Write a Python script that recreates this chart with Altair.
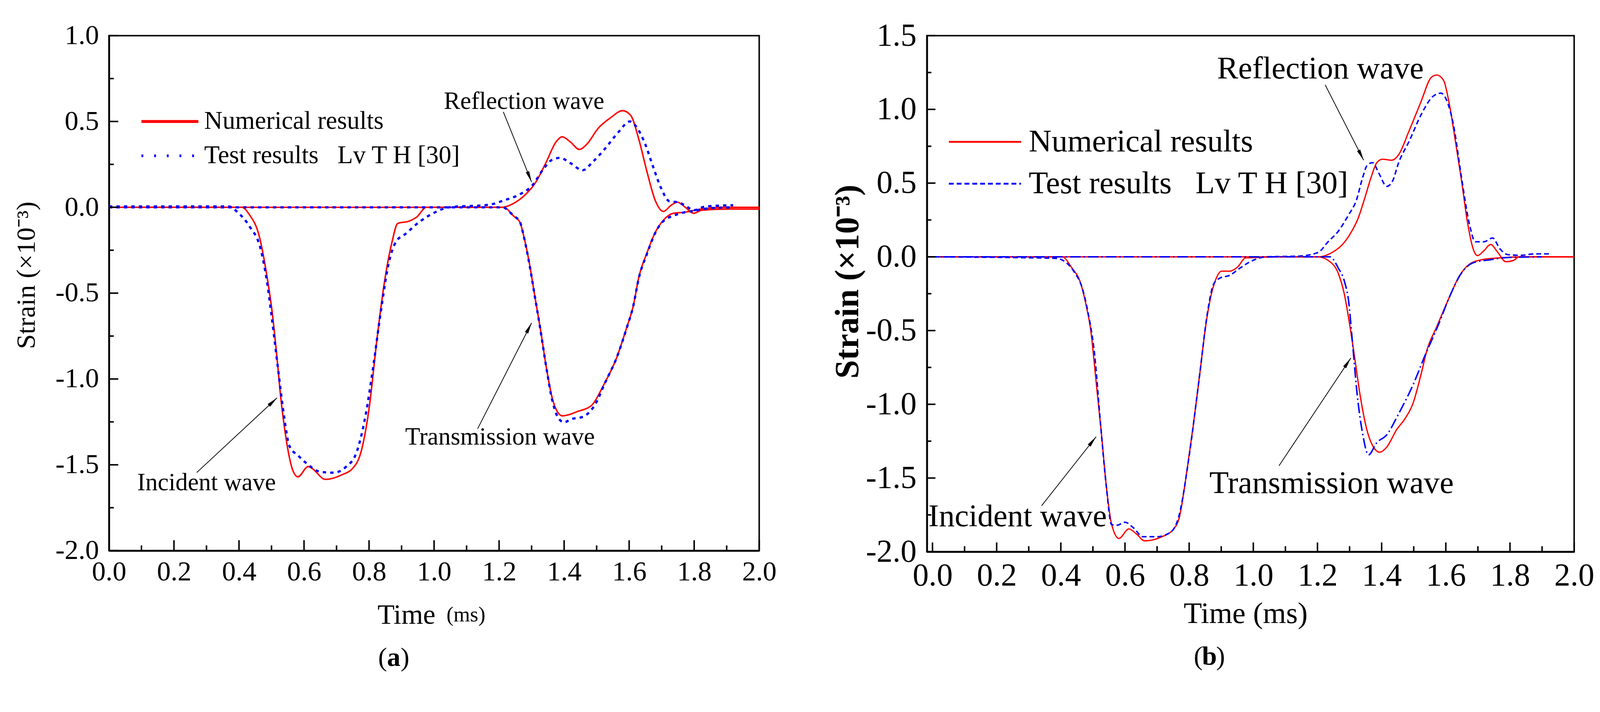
import math
import altair as alt
import pandas as pd

SERIF = "Liberation Serif"
RED = "#ff0000"
BLUE = "#0000ff"

# ---------------- panel (a) data ----------------
A_NUM1_T = [0.0, 0.30, 0.409, 0.432, 0.462, 0.485, 0.502, 0.517, 0.528, 0.543, 0.566, 0.581, 0.613, 0.624,
            0.666, 0.719, 0.748, 0.777, 0.801, 0.824, 0.847, 0.871, 0.888, 0.924, 0.947, 0.976, 1.10, 1.208,
            1.251, 1.282, 1.313, 1.345, 1.375, 1.394, 1.419, 1.447, 1.468, 1.506, 1.543, 1.580, 1.605, 1.630,
            1.655, 1.680, 1.705, 1.730, 1.748, 1.773, 1.798, 1.823, 1.900, 2.0]
A_NUM1_V = [0, 0, 0, -0.043, -0.166, -0.39, -0.61, -0.88, -1.10, -1.325, -1.535, -1.57, -1.51, -1.52,
            -1.585, -1.556, -1.524, -1.413, -1.16, -0.773, -0.44, -0.199, -0.094, -0.08, -0.056, 0, 0, 0,
            0.03, 0.076, 0.147, 0.264, 0.381, 0.411, 0.381, 0.337, 0.364, 0.463, 0.522, 0.563, 0.535, 0.394,
            0.206, 0.041, -0.024, 0.013, 0.03, 0, -0.035, -0.017, -0.01, -0.01]
A_NUM2_T = [0.0, 1.214, 1.245, 1.264, 1.276, 1.295, 1.310, 1.326, 1.345, 1.363, 1.379, 1.395, 1.411, 1.440,
            1.482, 1.524, 1.562, 1.593, 1.612, 1.630, 1.655, 1.680, 1.705, 1.736, 1.773, 1.822, 1.900, 2.0]
A_NUM2_V = [0, 0, -0.052, -0.087, -0.169, -0.346, -0.52, -0.697, -0.93, -1.108, -1.19, -1.215, -1.21, -1.19,
            -1.158, -1.026, -0.874, -0.697, -0.58, -0.405, -0.264, -0.147, -0.076, -0.035, -0.028, -0.01, 0, 0]
A_TEST1_T = [0.0, 0.368, 0.398, 0.432, 0.468, 0.485, 0.502, 0.520, 0.538, 0.555, 0.584, 0.613, 0.648, 0.690,
             0.730, 0.760, 0.789, 0.812, 0.836, 0.860, 0.883, 0.912, 0.952, 0.999, 1.046, 1.170, 1.214, 1.264,
             1.300, 1.339, 1.363, 1.388, 1.419, 1.457, 1.488, 1.525, 1.568, 1.602, 1.624, 1.649, 1.673, 1.698,
             1.724, 1.748, 1.773, 1.798, 1.835, 1.920]
A_TEST1_V = [0.005, 0.005, -0.033, -0.11, -0.254, -0.42, -0.66, -0.94, -1.21, -1.39, -1.45, -1.50, -1.54, -1.546,
             -1.51, -1.435, -1.215, -0.94, -0.61, -0.33, -0.2, -0.155, -0.089, -0.033, 0.0, 0.015, 0.04, 0.076,
             0.123, 0.23, 0.277, 0.288, 0.258, 0.216, 0.264, 0.34, 0.44, 0.5, 0.464, 0.37, 0.24, 0.113,
             0.035, 0.03, 0.01, -0.017, 0.005, 0.012]
A_TEST2_T = [0.0, 1.210, 1.245, 1.264, 1.276, 1.295, 1.310, 1.326, 1.345, 1.363, 1.380, 1.400, 1.420, 1.458,
             1.498, 1.524, 1.562, 1.593, 1.612, 1.630, 1.655, 1.680, 1.700, 1.748, 1.800, 1.850, 1.920]
A_TEST2_V = [0, 0, -0.05, -0.085, -0.17, -0.35, -0.52, -0.70, -0.93, -1.12, -1.22, -1.253, -1.235, -1.22,
             -1.14, -1.03, -0.874, -0.70, -0.58, -0.41, -0.27, -0.15, -0.09, -0.041, -0.02, -0.005, 0.0]

# ---------------- panel (b) data ----------------
B_NUM1_T = [-0.017, 0.285, 0.404, 0.435, 0.461, 0.480, 0.492, 0.511, 0.527, 0.542, 0.558, 0.581, 0.612, 0.636,
            0.661, 0.713, 0.750, 0.769, 0.795, 0.813, 0.833, 0.851, 0.866, 0.882, 0.901, 0.927, 0.951, 0.976,
            1.092, 1.202, 1.246, 1.278, 1.302, 1.327, 1.346, 1.366, 1.385, 1.403, 1.431, 1.453, 1.486, 1.523,
            1.554, 1.572, 1.593, 1.611, 1.630, 1.648, 1.668, 1.686, 1.699, 1.718, 1.740, 1.762, 1.787, 1.812,
            1.828, 1.899, 2.0]
B_NUM1_V = [0, 0, 0, -0.077, -0.174, -0.34, -0.478, -0.867, -1.21, -1.56, -1.81, -1.91, -1.845, -1.88,
            -1.926, -1.9, -1.85, -1.77, -1.42, -1.14, -0.795, -0.478, -0.284, -0.159, -0.097, -0.097, -0.069, -0.007,
            0, 0, 0.03, 0.084, 0.156, 0.263, 0.389, 0.532, 0.639, 0.662, 0.655, 0.693, 0.857, 1.054,
            1.215, 1.233, 1.197, 1.036, 0.783, 0.532, 0.228, 0.049, 0.008, 0.04, 0.084, 0.03, -0.033, -0.023,
            0, 0, 0]
B_NUM2_T = [-0.017, 1.202, 1.239, 1.265, 1.284, 1.300, 1.315, 1.333, 1.352, 1.372, 1.394, 1.416, 1.447, 1.472,
            1.498, 1.523, 1.541, 1.572, 1.611, 1.642, 1.673, 1.711, 1.762, 1.849, 2.0]
B_NUM2_V = [0, 0, -0.033, -0.113, -0.256, -0.455, -0.67, -0.94, -1.156, -1.281, -1.325, -1.29, -1.171, -1.1,
            -0.992, -0.795, -0.634, -0.473, -0.274, -0.13, -0.051, -0.02, -0.008, 0, 0]
B_TEST1_T = [-0.017, 0.386, 0.411, 0.441, 0.467, 0.485, 0.505, 0.524, 0.542, 0.558, 0.575, 0.600, 0.625, 0.656,
             0.700, 0.744, 0.769, 0.800, 0.833, 0.857, 0.876, 0.895, 0.927, 0.958, 0.995, 1.042, 1.143, 1.202,
             1.233, 1.265, 1.296, 1.322, 1.340, 1.355, 1.372, 1.391, 1.416, 1.434, 1.453, 1.486, 1.523, 1.561,
             1.585, 1.604, 1.624, 1.648, 1.673, 1.692, 1.718, 1.746, 1.768, 1.793, 1.833, 1.876, 1.925]
B_TEST1_V = [0.0, -0.01, -0.03, -0.1, -0.214, -0.38, -0.657, -1.14, -1.56, -1.816, -1.82, -1.80, -1.835, -1.898,
             -1.898, -1.864, -1.75, -1.35, -0.795, -0.38, -0.186, -0.145, -0.125, -0.077, -0.028, 0, 0.005, 0.03,
             0.102, 0.174, 0.281, 0.389, 0.532, 0.621, 0.639, 0.568, 0.478, 0.514, 0.639, 0.785, 0.964, 1.09,
             1.11, 1.054, 0.893, 0.55, 0.228, 0.102, 0.102, 0.128, 0.056, 0.015, 0.01, 0.02, 0.02]
B_TEST2_T = [-0.017, 1.239, 1.265, 1.284, 1.297, 1.309, 1.324, 1.340, 1.359, 1.385, 1.416, 1.453, 1.498, 1.535,
             1.578, 1.611, 1.648, 1.686, 1.738, 1.788, 1.899]
B_TEST2_V = [0, 0, -0.077, -0.166, -0.3, -0.58, -0.94, -1.19, -1.343, -1.26, -1.207, -1.064, -0.867, -0.67,
             -0.455, -0.274, -0.113, -0.04, -0.02, -0.005, 0]

# ---------------- ticks and labels ----------------
X_LABELS = [0.0, 0.2, 0.4, 0.6, 0.8, 1.0, 1.2, 1.4, 1.6, 1.8, 2.0]
X_MINOR = [0.1, 0.3, 0.5, 0.7, 0.9, 1.1, 1.3, 1.5, 1.7, 1.9]
A_Y_LABELS = [-2.0, -1.5, -1.0, -0.5, 0.0, 0.5, 1.0]
A_Y_MINOR = [-1.75, -1.25, -0.75, -0.25, 0.25, 0.75]
B_Y_LABELS = [-2.0, -1.5, -1.0, -0.5, 0.0, 0.5, 1.0, 1.5]
B_Y_MINOR = [-1.75, -1.25, -0.75, -0.25, 0.25, 0.75, 1.25]

LEGEND_LABELS = ["Numerical results", "Test results\u00a0\u00a0\u00a0Lv T H [30]"]
NOTE_LABELS = ["Reflection wave", "Transmission wave", "Incident wave"]
Y_TITLE = "Strain (\u00d710\u207b\u00b3)"

NEG = "datum.value < 0 ? '-' + format(-datum.value, '.1f') : format(datum.value, '.1f')"

ARROW = "M0,0L0.32,2L-0.32,2Z"

PA = dict(
    w=1745, h=1383, xdom=[0.0, 2.0], ydom=[-2.0, 1.0],
    ylabels=A_Y_LABELS, yminor=A_Y_MINOR,
    tick=74, xlabpad=22, ylabpad=27,
    xtitle="Time", xtitlesize=75, xtitleX=798, xtitleY=173,
    ytitlesize=72, ytitleweight="normal", ytitleX=-222, ytitleY=643,
    xt=(28, 14), yt=(25, 13),
    lw_num=4, lw_test=6, dash1=[9, 11], dash2=[9, 11],
    num1=(A_NUM1_T, A_NUM1_V), num2=(A_NUM2_T, A_NUM2_V),
    test1=(A_TEST1_T, A_TEST1_V), test2=(A_TEST2_T, A_TEST2_V),
    leg_t=(0.10, 0.275, 0.293), leg_v=(0.50, 0.30), leg_size=68, leg_lw=(8, 7), leg_dash=[5, 29],
    note_size=66,
    notes_t=[1.03, 0.911, 0.087], notes_v=[0.617, -1.338, -1.604],
    arr=[(1.213, 0.556, 1.300, 0.147), (1.134, -1.29, 1.300, -0.673), (0.270, -1.545, 0.517, -1.11)],
    cap="a", cap_t=0.876, cap_dy=288, cap_size=72,
    extra_ms=True,
)

PB = dict(
    w=1737, h=1386, xdom=[-0.0175, 2.0], ydom=[-2.0, 1.5],
    ylabels=B_Y_LABELS, yminor=B_Y_MINOR,
    tick=86, xlabpad=22, ylabpad=28,
    xtitle="Time (ms)", xtitlesize=80, xtitleX=855, xtitleY=167,
    ytitlesize=90, ytitleweight="bold", ytitleX=-212, ytitleY=660,
    xt=(25, 15), yt=(23, 12),
    lw_num=3.5, lw_test=4, dash1=[13, 8], dash2=[28, 8, 4, 8],
    num1=(B_NUM1_T, B_NUM1_V), num2=(B_NUM2_T, B_NUM2_V),
    test1=(B_TEST1_T, B_TEST1_V), test2=(B_TEST2_T, B_TEST2_V),
    leg_t=(0.051, 0.276, 0.300), leg_v=(0.78, 0.496), leg_size=85, leg_lw=(5, 5), leg_dash=[13, 8],
    note_size=85,
    notes_t=[0.887, 0.863, -0.013], notes_v=[1.276, -1.537, -1.762],
    arr=[(1.224, 1.166, 1.344, 0.655), (1.080, -1.417, 1.304, -0.686), (0.340, -1.688, 0.510, -1.22)],
    cap="b", cap_t=0.863, cap_dy=282, cap_size=72,
    extra_ms=False,
)


def panel(P):
    W, H = P["w"], P["h"]
    xs = alt.Scale(domain=P["xdom"], nice=False, zero=False)
    ys = alt.Scale(domain=P["ydom"], nice=False, zero=False)
    ax = alt.Axis(values=X_LABELS, labelExpr=NEG, labelFont=SERIF, labelFontSize=P["tick"],
                  labelColor="black", labelPadding=P["xlabpad"], labelFlush=False, labelOverlap=False,
                  ticks=False, tickSize=0, domainColor="black", domainWidth=5, grid=False,
                  title=P["xtitle"], titleFont=SERIF, titleFontSize=P["xtitlesize"], titleFontWeight="normal",
                  titleColor="black", titleX=P["xtitleX"], titleY=P["xtitleY"], titleBaseline="middle",
                  titleAlign="center")
    ay = alt.Axis(values=P["ylabels"], labelExpr=NEG, labelFont=SERIF, labelFontSize=P["tick"],
                  labelColor="black", labelPadding=P["ylabpad"], labelFlush=False, labelOverlap=False,
                  ticks=False, tickSize=0, domainColor="black", domainWidth=5, grid=False,
                  title=Y_TITLE, titleFont=SERIF, titleFontSize=P["ytitlesize"],
                  titleFontWeight=P["ytitleweight"], titleColor="black", titleAngle=270,
                  titleX=P["ytitleX"], titleY=P["ytitleY"], titleBaseline="middle", titleAlign="center")

    def X(f):
        return alt.X(f, type="quantitative", scale=xs, axis=ax)

    def Y(f):
        return alt.Y(f, type="quantitative", scale=ys, axis=ay)

    num = pd.concat([
        pd.DataFrame({"t": P["num1"][0], "v": P["num1"][1], "s": "n1"}),
        pd.DataFrame({"t": P["num2"][0], "v": P["num2"][1], "s": "n2"}),
    ])
    red = alt.Chart(num).mark_line(color=RED, strokeWidth=P["lw_num"], interpolate="monotone").encode(
        x=X("t"), y=Y("v"), detail="s:N")
    t1 = alt.Chart(pd.DataFrame({"t": P["test1"][0], "v": P["test1"][1]})).mark_line(
        color=BLUE, strokeWidth=P["lw_test"], strokeDash=P["dash1"], interpolate="monotone").encode(
        x=X("t"), y=Y("v"))
    t2 = alt.Chart(pd.DataFrame({"t": P["test2"][0], "v": P["test2"][1]})).mark_line(
        color=BLUE, strokeWidth=P["lw_test"], strokeDash=P["dash2"], interpolate="monotone").encode(
        x=X("t"), y=Y("v"))

    xmaj = alt.Chart(pd.DataFrame({"t": X_LABELS})).mark_rule(color="black", strokeWidth=4).encode(
        x=X("t"), y=alt.value(H), y2=alt.value(H - P["xt"][0]))
    xmin = alt.Chart(pd.DataFrame({"t": X_MINOR})).mark_rule(color="black", strokeWidth=4).encode(
        x=X("t"), y=alt.value(H), y2=alt.value(H - P["xt"][1]))
    ymaj = alt.Chart(pd.DataFrame({"v": P["ylabels"]})).mark_rule(color="black", strokeWidth=4).encode(
        y=Y("v"), x=alt.value(0), x2=alt.value(P["yt"][0]))
    ymin = alt.Chart(pd.DataFrame({"v": P["yminor"]})).mark_rule(color="black", strokeWidth=4).encode(
        y=Y("v"), x=alt.value(0), x2=alt.value(P["yt"][1]))

    lt0, lt1, ltx = P["leg_t"]
    leg1 = alt.Chart(pd.DataFrame({"t": [lt0], "t2": [lt1], "v": [P["leg_v"][0]]})).mark_rule(
        color=RED, strokeWidth=P["leg_lw"][0]).encode(x=X("t"), x2="t2", y=Y("v"))
    leg2 = alt.Chart(pd.DataFrame({"t": [lt0], "t2": [lt1], "v": [P["leg_v"][1]]})).mark_rule(
        color=BLUE, strokeWidth=P["leg_lw"][1], strokeDash=P["leg_dash"]).encode(x=X("t"), x2="t2", y=Y("v"))
    legtxt = alt.Chart(pd.DataFrame({"t": [ltx, ltx], "v": list(P["leg_v"]), "label": LEGEND_LABELS})).mark_text(
        font=SERIF, fontSize=P["leg_size"], align="left", baseline="middle", color="black").encode(
        x=X("t"), y=Y("v"), text="label:N")

    notes = alt.Chart(pd.DataFrame({"t": P["notes_t"], "v": P["notes_v"], "label": NOTE_LABELS})).mark_text(
        font=SERIF, fontSize=P["note_size"], align="left", baseline="middle", color="black").encode(
        x=X("t"), y=Y("v"), text="label:N")

    # arrows: line + rotated arrowhead (angle derived from pixel direction)
    sx = W / (P["xdom"][1] - P["xdom"][0])
    sy = H / (P["ydom"][1] - P["ydom"][0])
    rows = []
    for (ta, va, tb, vb) in P["arr"]:
        dx = (tb - ta) * sx
        dy = -(vb - va) * sy
        ang = math.degrees(math.atan2(dx, -dy)) % 360
        rows.append({"t": ta, "v": va, "t2": tb, "v2": vb, "ang": ang})
    adf = pd.DataFrame(rows)
    aline = alt.Chart(adf).mark_rule(color="black", strokeWidth=2).encode(
        x=X("t"), y=Y("v"), x2="t2", y2="v2")
    ahead = alt.Chart(adf).mark_point(shape=ARROW, filled=True, color="black", opacity=1, size=900,
                                      strokeWidth=0).encode(
        x=X("t2"), y=Y("v2"), angle=alt.Angle("ang:Q", scale=None))

    cap_df = pd.DataFrame({"t": [P["cap_t"]]})
    cap_y = alt.value(H + P["cap_dy"])
    cap_l = alt.Chart(cap_df).mark_text(text="(", font=SERIF, fontSize=P["cap_size"], align="right",
                                        baseline="middle", dx=-18, color="black").encode(x=X("t"), y=cap_y)
    cap_m = alt.Chart(cap_df).mark_text(text=P["cap"], font=SERIF, fontSize=P["cap_size"], fontWeight="bold",
                                        align="center", baseline="middle", color="black").encode(x=X("t"), y=cap_y)
    cap_r = alt.Chart(cap_df).mark_text(text=")", font=SERIF, fontSize=P["cap_size"], align="left",
                                        baseline="middle", dx=18, color="black").encode(x=X("t"), y=cap_y)

    layers = [red, t1, t2, xmaj, xmin, ymaj, ymin, leg1, leg2, legtxt, notes, aline, ahead, cap_l, cap_m, cap_r]
    if P["extra_ms"]:
        ms = alt.Chart(pd.DataFrame({"t": [1.098]})).mark_text(
            text="(ms)", font=SERIF, fontSize=57, align="center", baseline="middle", color="black").encode(
            x=X("t"), y=alt.value(H + P["xtitleY"]))
        layers.append(ms)
    return alt.layer(*layers).properties(width=W, height=H)


chart = alt.hconcat(panel(PA), panel(PB), spacing=142).resolve_scale(
    x="independent", y="independent").configure_view(
    stroke="black", strokeWidth=4).properties(
    padding={"left": 24, "top": 0, "right": 5, "bottom": 0}, background="white")

chart.save("out.html", embed_options={"renderer": "svg", "actions": False})
